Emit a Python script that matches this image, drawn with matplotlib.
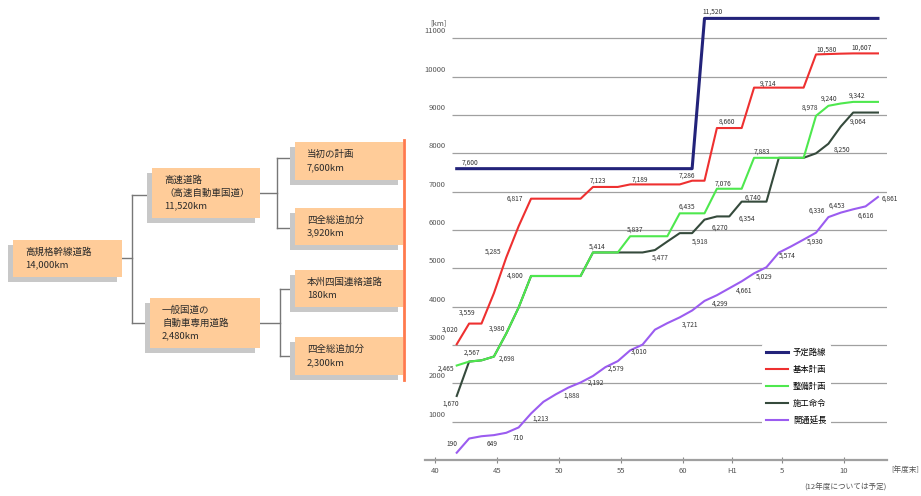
import matplotlib
matplotlib.use("Agg")
import matplotlib.pyplot as plt
from matplotlib.patches import Rectangle

plt.rcParams['font.family'] = ['Noto Sans CJK JP', 'DejaVu Sans']

# fiscal years (values are year-end lengths in km)
years = [1966, 1967, 1968, 1969, 1970, 1971, 1972, 1973, 1974, 1975,
         1976, 1977, 1978, 1979, 1980, 1981, 1982, 1983, 1984, 1985,
         1986, 1987, 1988, 1989, 1990, 1991, 1992, 1993, 1994, 1995,
         1996, 1997, 1998, 1999, 2000]

planned = [7600, 7600, 7600, 7600, 7600, 7600, 7600, 7600, 7600, 7600,
           7600, 7600, 7600, 7600, 7600, 7600, 7600, 7600, 7600, 7600,
           11520, 11520, 11520, 11520, 11520, 11520, 11520, 11520, 11520, 11520,
           11520, 11520, 11520, 11520, 11520]
basic_plan = [3020, 3559, 3559, 4350, 5285, 6100, 6817, 6817, 6817, 6817,
              6817, 7123, 7123, 7123, 7189, 7189, 7189, 7189, 7189, 7286,
              7286, 8660, 8660, 8660, 9714, 9714, 9714, 9714, 9714, 10580,
              10590, 10600, 10607, 10607, 10607]
devel_plan = [2465, 2567, 2600, 2698, 3300, 3980, 4800, 4800, 4800, 4800,
              4800, 5414, 5414, 5414, 5837, 5837, 5837, 5837, 6435, 6435,
              6435, 7076, 7076, 7076, 7883, 7883, 7883, 7883, 7883, 8978,
              9240, 9300, 9342, 9342, 9342]
constr_order = [1670, 2567, 2600, 2698, 3300, 3980, 4800, 4800, 4800, 4800,
                4800, 5414, 5414, 5414, 5414, 5414, 5477, 5700, 5918, 5918,
                6270, 6354, 6354, 6740, 6740, 6740, 7883, 7883, 7883, 8000,
                8250, 8700, 9064, 9064, 9064]
opened = [190, 560, 620, 649, 710, 850, 1213, 1519, 1714, 1888,
          2022, 2192, 2422, 2579, 2860, 3010, 3400, 3570, 3721, 3900,
          4150, 4299, 4480, 4661, 4869, 5029, 5410, 5574, 5750, 5930,
          6336, 6453, 6540, 6616, 6861]

series_names = ['予定路線', '基本計画', '整備計画', '施工命令', '開通延長']
series_colors = ['#23237a', '#ee3030', '#4ee84e', '#354a3c', '#9b5cf0']

# (year, dx, dy) for the value labels of each series
planned_tags = [(1966, 13, 6), (1986, 8, 7)]
basic_tags = [(1966, -7, 15), (1967, -2, 11), (1970, -13, 6), (1972, -16, 0),
              (1977, 5, 6), (1980, 10, 5), (1985, -5, 5), (1987, 10, 6),
              (1990, 14, 4), (1995, 11, 5), (2000, -16, 6)]
devel_tags = [(1966, -11, -3), (1967, 3, 9), (1969, 13, -2), (1971, -22, -21),
              (1972, -16, 0), (1977, 4, 6), (1980, 5, 7), (1984, 7, 7),
              (1987, 6, 5), (1990, 8, 6), (1995, -6, 8), (1996, 1, 7),
              (1998, 4, 6)]
constr_tags = [(1966, -6, -8), (1982, 5, -8), (1984, 20, -9), (1986, 15, -8),
               (1988, 18, -2), (1989, 11, 4), (1996, 14, -6), (1998, 5, -9)]
opened_tags = [(1966, -5, 9), (1969, -2, -9), (1970, 12, -5), (1972, 10, -5),
               (1975, 3, -8), (1977, 3, -7), (1979, -2, -8), (1981, -3, -7),
               (1984, 10, -7), (1987, 3, -8), (1989, 2, -9), (1991, -2, -9),
               (1993, -4, -9), (1995, -1, -9), (1996, -12, 6), (1997, -4, 7),
               (1999, 0, -9), (2000, 12, -2)]

grid_values = [1000, 2000, 3000, 4000, 5000, 6000, 7000, 8000, 9000, 10000, 11000]
tick_years = [1965, 1970, 1975, 1980, 1985, 1989, 1993, 1998]
tick_labels = ['40', '45', '50', '55', '60', 'H1', '5', '10']

# organisation tree: (x0, y0, x1, y1) in pixels, text lines
tree_boxes = [
    ((13, 240, 122, 277), ['高規格幹線道路', '14,000km']),
    ((152, 168, 260, 218), ['高速道路', '（高速自動車国道）', '11,520km']),
    ((150, 298, 260, 348), ['一般国道の', '自動車専用道路', '2,480km']),
    ((295, 142, 403, 180), ['当初の計画', '7,600km']),
    ((295, 208, 403, 245), ['四全総追加分', '3,920km']),
    ((295, 270, 403, 307), ['本州四国連絡道路', '180km']),
    ((295, 337, 403, 375), ['四全総追加分', '2,300km']),
]

W, H = 921, 496
fig = plt.figure(figsize=(W / 100, H / 100), dpi=100)

# --- tree on the left, drawn in pixel coordinates ---
tr = fig.add_axes([0, 0, 1, 1])
tr.set_xlim(0, W)
tr.set_ylim(H, 0)
tr.axis('off')

for (x0, y0, x1, y1), lines in tree_boxes:
    tr.add_patch(Rectangle((x0 - 5, y0 + 5), x1 - x0, y1 - y0,
                           facecolor='#c8c8c8', edgecolor='none', zorder=1))
    tr.add_patch(Rectangle((x0, y0), x1 - x0, y1 - y0,
                           facecolor='#ffcc99', edgecolor='none', zorder=2))
    n = len(lines)
    top = (y0 + y1) / 2 - (n - 1) * 13 / 2
    for i, s in enumerate(lines):
        tr.text(x0 + 12, top + i * 13, s, fontsize=6.8, color='#2a2a2a',
                ha='left', va='center', zorder=3)

con = dict(color='#777777', lw=1, zorder=0)
tr.plot([122, 132], [258, 258], **con)
tr.plot([132, 132], [195, 323], **con)
tr.plot([132, 152], [195, 195], **con)
tr.plot([132, 150], [323, 323], **con)
tr.plot([260, 277], [193, 193], **con)
tr.plot([277, 277], [158, 228], **con)
tr.plot([277, 295], [158, 158], **con)
tr.plot([277, 295], [228, 228], **con)
tr.plot([260, 280], [323, 323], **con)
tr.plot([280, 280], [289, 356], **con)
tr.plot([280, 295], [289, 289], **con)
tr.plot([280, 295], [356, 356], **con)
tr.plot([404, 404], [140, 380], color='#ff7a4d', lw=2, zorder=4)

# --- line chart on the right ---
x_lo, x_hi = 1963.44, 2000.73
ax = fig.add_axes([425 / W, (H - 460) / H, 462 / W, 460 / H])
ax.patch.set_alpha(0)
ax.set_xlim(x_lo, x_hi)
ax.set_ylim(0, 12000)

ax.hlines(grid_values, 1965.62, x_hi, colors='#a0a0a0', lw=0.9, zorder=0)
for v in grid_values:
    ax.text(1965.1, v + 80, str(v), ha='right', va='bottom',
            fontsize=5.5, color='#555555')
fig.text(438 / W, 1 - 23 / H, '[km]', ha='center', va='center',
         fontsize=5.5, color='#555555')

all_series = [planned, basic_plan, devel_plan, constr_order, opened]
all_tags = [planned_tags, basic_tags, devel_tags, constr_tags, opened_tags]
widths = [2.2, 1.5, 1.5, 1.5, 1.5]
orders = [3, 3, 4, 3, 3]
for vals, name, col, lw, zo in zip(all_series, series_names, series_colors,
                                   widths, orders):
    ax.plot(years, vals, color=col, lw=lw, label=name, zorder=zo,
            solid_joinstyle='round')

for vals, tags in zip(all_series, all_tags):
    for yr, dx, dy in tags:
        v = vals[years.index(yr)]
        ax.annotate(f'{v:,}', (yr, v), xytext=(dx, dy),
                    textcoords='offset pixels', ha='center', va='center',
                    fontsize=4.8, color='#333333', annotation_clip=False,
                    zorder=6)

# ticks sit at the start of each fiscal year, values are plotted at year end
ax.set_xticks([t - 0.75 for t in tick_years])
ax.set_xticklabels(tick_labels)
ax.set_yticks([])
ax.tick_params(axis='x', direction='inout', length=4, width=0.8,
               colors='#888888', labelsize=5.5, labelcolor='#555555', pad=3)
for side in ['top', 'right', 'left']:
    ax.spines[side].set_visible(False)
ax.spines['bottom'].set_color('#a0a0a0')
ax.spines['bottom'].set_linewidth(1.6)

fig.text(905 / W, 1 - 470 / H, '[年度末]', ha='center', va='center',
         fontsize=5.5, color='#555555')
fig.text(845 / W, 1 - 488 / H, '(12年度については予定)', ha='center',
         va='center', fontsize=5.5, color='#555555')

leg = ax.legend(loc='upper left', bbox_to_anchor=(758 / W, 1 - 340 / H),
                bbox_transform=fig.transFigure, fontsize=6, frameon=True,
                handlelength=2.6, labelspacing=0.95, borderpad=0.5,
                handletextpad=0.6)
leg.get_frame().set_facecolor('white')
leg.get_frame().set_edgecolor('none')
leg.get_frame().set_alpha(1)
leg.set_zorder(5)

fig.savefig('out.png', dpi=100)
